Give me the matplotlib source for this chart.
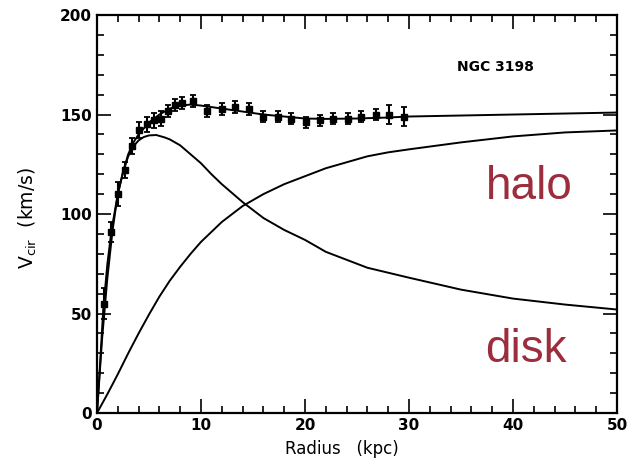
import numpy as np
import matplotlib.pyplot as plt
from matplotlib.ticker import MultipleLocator

# ---- rotation curve data (NGC 3198) ----
r_obs = [0.68, 1.36, 2.04, 2.72, 3.40, 4.08, 4.76, 5.44, 6.12, 6.80, 7.48, 8.16,
         9.2, 10.6, 12.0, 13.3, 14.6, 16.0, 17.4, 18.7, 20.1, 21.4, 22.7, 24.1,
         25.4, 26.8, 28.1, 29.5]
v_obs = [55, 91, 110, 122, 134, 142, 145, 147, 148, 152, 155, 156,
         157, 152, 153, 154, 153, 149, 149, 148, 146, 147, 148, 148,
         149, 150, 150, 149]
v_err = [8, 5, 6, 4, 4, 4, 4, 4, 4, 3, 3, 3,
         3, 3, 3, 3, 3, 3, 3, 3, 3, 3, 3, 3,
         3, 3, 5, 5]

# ---- model curves ----
r_tot = [0, 0.3, 0.6, 1.0, 1.4, 2.0, 2.5, 3.0, 3.5, 4.0, 5.0, 6.0, 7.0, 8.0, 9.0,
         10, 12, 14, 16, 18, 20, 22, 25, 28, 30, 35, 40, 45, 50]
v_tot = [0, 25, 52, 75, 92, 110, 121, 130, 136, 140, 146, 150, 153, 154.5, 155,
         154.5, 153, 151.5, 150, 149, 148, 147.8, 148, 148.5, 149, 149.5, 150, 150.5, 151]

r_disk = [0, 0.5, 1.0, 1.5, 2.0, 2.5, 3.0, 3.5, 4.0, 4.5, 5.0, 5.7, 6.5, 7.0, 8.0,
          9.0, 10, 11, 12, 14, 16, 18, 20, 22, 24, 26, 28, 30, 35, 40, 45, 50]
v_disk = [0, 38, 68, 92, 110, 121, 129, 134, 137, 138.7, 139.5, 139.7, 138.5, 137.5, 134.5,
          130, 125.5, 120, 115, 106, 98, 92, 87, 81, 77, 73, 70.5, 68, 62, 57.5, 54.5, 52]

r_halo = [0, 1, 2, 3, 4, 5, 6, 7, 8, 9, 10, 11, 12, 14, 16, 18, 20, 22, 24, 26, 28,
          30, 35, 40, 45, 50]
v_halo = [0, 9.5, 19.5, 30, 40, 49.5, 58.5, 66.5, 73.5, 80, 86, 91, 96, 104, 110,
          115, 119, 123, 126, 129, 131, 132.5, 136, 139, 141, 142]

fig = plt.figure(figsize=(6.39, 4.61), dpi=100)
ax = fig.add_axes([0.1518, 0.1041, 0.8138, 0.8633])

ax.plot(r_tot, v_tot, color='black', lw=1.4)
ax.plot(r_disk, v_disk, color='black', lw=1.4)
ax.plot(r_halo, v_halo, color='black', lw=1.4)
ax.errorbar(r_obs, v_obs, yerr=v_err, fmt='s', color='black', ms=4,
            elinewidth=1.5, capsize=2, capthick=1.3)

ax.set_xlim(0, 50)
ax.set_ylim(0, 200)
ax.xaxis.set_major_locator(MultipleLocator(10))
ax.xaxis.set_minor_locator(MultipleLocator(2))
ax.yaxis.set_major_locator(MultipleLocator(50))
ax.yaxis.set_minor_locator(MultipleLocator(10))
ax.tick_params(which='both', direction='in', top=True, right=True, width=1.2,
               labelsize=11)
ax.tick_params(which='major', length=10)
ax.tick_params(which='minor', length=5)
for lab in ax.get_xticklabels() + ax.get_yticklabels():
    lab.set_fontweight('bold')
for s in ax.spines.values():
    s.set_linewidth(1.6)

ax.set_xlabel('Radius   (kpc)', fontsize=12)
ax.xaxis.set_label_coords(0.47, -0.068)
ax.set_ylabel(r'V$_{\rm cir}$  (km/s)', fontsize=13.5)
ax.yaxis.set_label_coords(-0.112, 0.49)

ax.text(34.6, 174, 'NGC 3198', fontsize=10, fontweight='bold', va='center')
ax.text(41.6, 107.5, 'halo', fontsize=33, color='#9b2d3c', ha='center',
        va='baseline', family='Liberation Sans')
ax.text(41.2, 25.6, 'disk', fontsize=33, color='#9b2d3c', ha='center',
        va='baseline', family='Liberation Sans')

fig.savefig('out.png', dpi=100)
